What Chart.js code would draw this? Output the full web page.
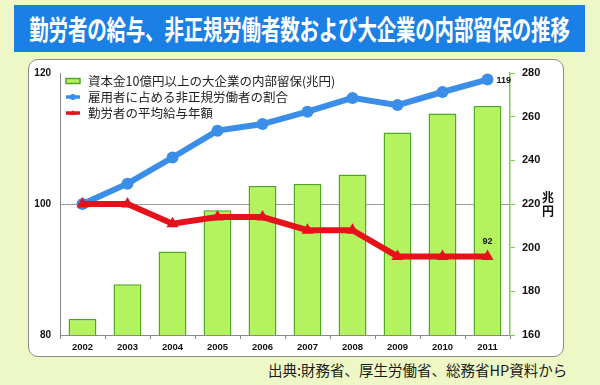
<!DOCTYPE html>
<html><head><meta charset="utf-8">
<script src="https://cdn.jsdelivr.net/npm/chart.js@4"></script>
<style>
html,body{margin:0;padding:0;}
body{width:600px;height:385px;background:#eef8c6;position:relative;overflow:hidden;font-family:"Noto Sans CJK JP",sans-serif;}
#title{position:absolute;left:14px;top:5px;width:571px;height:47px;background:#1b80e6;color:#fff;display:flex;align-items:center;justify-content:center;}
#title span{font-weight:bold;font-size:19.5px;display:inline-block;transform:scaleY(1.4);white-space:nowrap;letter-spacing:-0.2px;}
#panel{position:absolute;left:28px;top:59px;width:536px;height:298px;background:#fff;border:1.5px solid #8a8a8a;border-radius:10px;box-sizing:border-box;}
#wrap{position:absolute;left:28px;top:58px;width:537px;height:300px;}
#src{position:absolute;left:268px;top:361px;font-size:14.5px;line-height:18px;color:#1a1a1a;white-space:nowrap;}
</style></head>
<body>
<div id="title"><span>勤労者の給与、非正規労働者数および大企業の内部留保の推移</span></div>
<div id="panel"></div>
<div id="wrap"><canvas id="c" width="537" height="300"></canvas></div>
<div id="src">出典:財務省、厚生労働省、総務省HP資料から</div>
<script>
const years = ['2002','2003','2004','2005','2006','2007','2008','2009','2010','2011'];
const reserves = [167.3, 183.2, 198.3, 217.1, 228.3, 229.2, 233.5, 252.7, 261.5, 264.9];
const nonRegular = [100, 103.1, 107.1, 111.2, 112.2, 114.1, 116.2, 115.1, 117.1, 119];
const wages = [100, 100, 97.0, 98.0, 98.0, 96.0, 96.0, 92, 92, 92];
const labels = ['資本金10億円以上の大企業の内部留保(兆円)', '雇用者に占める非正規労働者の割合', '勤労者の平均給与年額'];
const leftTicks = [80, 100, 120];
const rightTicks = [160, 180, 200, 220, 240, 260, 280];
const endLabels = ['119', '92'];
const unitLabel = ['兆', '円'];

const BLUE = '#3b8ee8', RED = '#e5121c', BARFILL = '#b5f25f', BARLINE = '#4fa822', AXGREEN = '#7dcb4e';

const overlay = {
  id: 'overlay',
  afterDraw(chart) {
    const ctx = chart.ctx, ca = chart.chartArea;
    ctx.save();
    const lx = ca.left + 6, rows = [ca.top + 8, ca.top + 24, ca.top + 40];
    ctx.font = '12.5px "Noto Sans CJK JP", sans-serif';
    ctx.textBaseline = 'middle';
    ctx.fillStyle = BARFILL; ctx.strokeStyle = BARLINE; ctx.lineWidth = 1.5;
    ctx.fillRect(lx, rows[0] - 2.5, 14, 5); ctx.strokeRect(lx, rows[0] - 2.5, 14, 5);
    ctx.strokeStyle = BLUE; ctx.lineWidth = 3.5;
    ctx.beginPath(); ctx.moveTo(lx, rows[1]); ctx.lineTo(lx + 14, rows[1]); ctx.stroke();
    ctx.fillStyle = BLUE; ctx.beginPath(); ctx.arc(lx + 7, rows[1], 3, 0, Math.PI * 2); ctx.fill();
    ctx.strokeStyle = RED; ctx.lineWidth = 3.5;
    ctx.beginPath(); ctx.moveTo(lx, rows[2]); ctx.lineTo(lx + 14, rows[2]); ctx.stroke();
    ctx.fillStyle = RED; ctx.beginPath(); ctx.moveTo(lx + 7, rows[2] - 3); ctx.lineTo(lx + 10, rows[2] + 2); ctx.lineTo(lx + 4, rows[2] + 2); ctx.closePath(); ctx.fill();
    ctx.fillStyle = '#222';
    chart.data.datasets.forEach((ds, i) => {
      ctx.fillText(ds.label, lx + 22, rows[i] + 0.5);
    });
    ctx.font = 'bold 9px "Liberation Sans", sans-serif';
    ctx.fillStyle = '#111';
    const mb = chart.getDatasetMeta(1).data, mr = chart.getDatasetMeta(2).data;
    const pb = mb[mb.length - 1], pr = mr[mr.length - 1];
    ctx.textAlign = 'left';
    ctx.fillText(endLabels[0], pb.x + 9, pb.y + 1);
    ctx.textAlign = 'center';
    ctx.fillText(endLabels[1], pr.x, pr.y - 15);
    const yr = chart.scales.y1.getPixelForValue(220);
    ctx.font = 'bold 12px "Noto Sans CJK JP", sans-serif';
    ctx.fillText(unitLabel[0], ca.right + 38, yr - 7);
    ctx.fillText(unitLabel[1], ca.right + 38, yr + 7);
    ctx.restore();
  }
};

new Chart(document.getElementById('c'), {
  data: {
    labels: years,
    datasets: [
      { type: 'bar', label: labels[0], data: reserves, yAxisID: 'y1', backgroundColor: BARFILL, borderColor: BARLINE, borderWidth: 1.5, barPercentage: 0.62, categoryPercentage: 1, order: 3 },
      { type: 'line', label: labels[1], data: nonRegular, yAxisID: 'y', borderColor: BLUE, backgroundColor: BLUE, borderWidth: 6, pointRadius: 6, pointStyle: 'circle', pointBorderWidth: 0, tension: 0, order: 2 },
      { type: 'line', label: labels[2], data: wages, yAxisID: 'y', borderColor: RED, backgroundColor: RED, borderWidth: 6, pointRadius: 7, pointStyle: 'triangle', pointBorderWidth: 0, tension: 0, order: 1 }
    ]
  },
  options: {
    responsive: false,
    animation: false,
    layout: { padding: { top: 14, left: 0, right: 0, bottom: 0 } },
    plugins: { legend: { display: false }, tooltip: { enabled: false }, title: { display: false } },
    scales: {
      x: {
        offset: true,
        grid: { display: true, drawOnChartArea: false, offset: true, tickLength: 4, color: '#888' },
        border: { display: true, color: '#888', width: 1 },
        ticks: { font: { family: '"Liberation Sans", sans-serif', size: 9.5, weight: 'bold' }, color: '#111', padding: 3, maxRotation: 0 },
        afterFit(s) { s.height = 23; }
      },
      y: {
        position: 'left', min: 80, max: 120,
        afterBuildTicks(s) { s.ticks = leftTicks.map(v => ({ value: v })); },
        grid: { color: ctx => ctx.tick && ctx.tick.value === 100 ? '#9a9a9a' : 'rgba(0,0,0,0)', tickLength: 4, drawTicks: false },
        border: { display: true, color: '#888', width: 1 },
        ticks: { font: { family: '"Liberation Sans", sans-serif', size: 10, weight: 'bold' }, color: '#111', padding: 9 },
        afterFit(s) { s.width = 32; }
      },
      y1: {
        position: 'right', min: 160, max: 280,
        afterBuildTicks(s) { s.ticks = rightTicks.map(v => ({ value: v })); },
        grid: { drawOnChartArea: false, color: AXGREEN, tickLength: 5 },
        border: { display: true, color: AXGREEN, width: 1.5 },
        ticks: { font: { family: '"Liberation Sans", sans-serif', size: 11, weight: 'bold' }, color: '#111', padding: 7 },
        afterFit(s) { s.width = 55; }
      }
    }
  },
  plugins: [overlay]
});
</script>
</body></html>
